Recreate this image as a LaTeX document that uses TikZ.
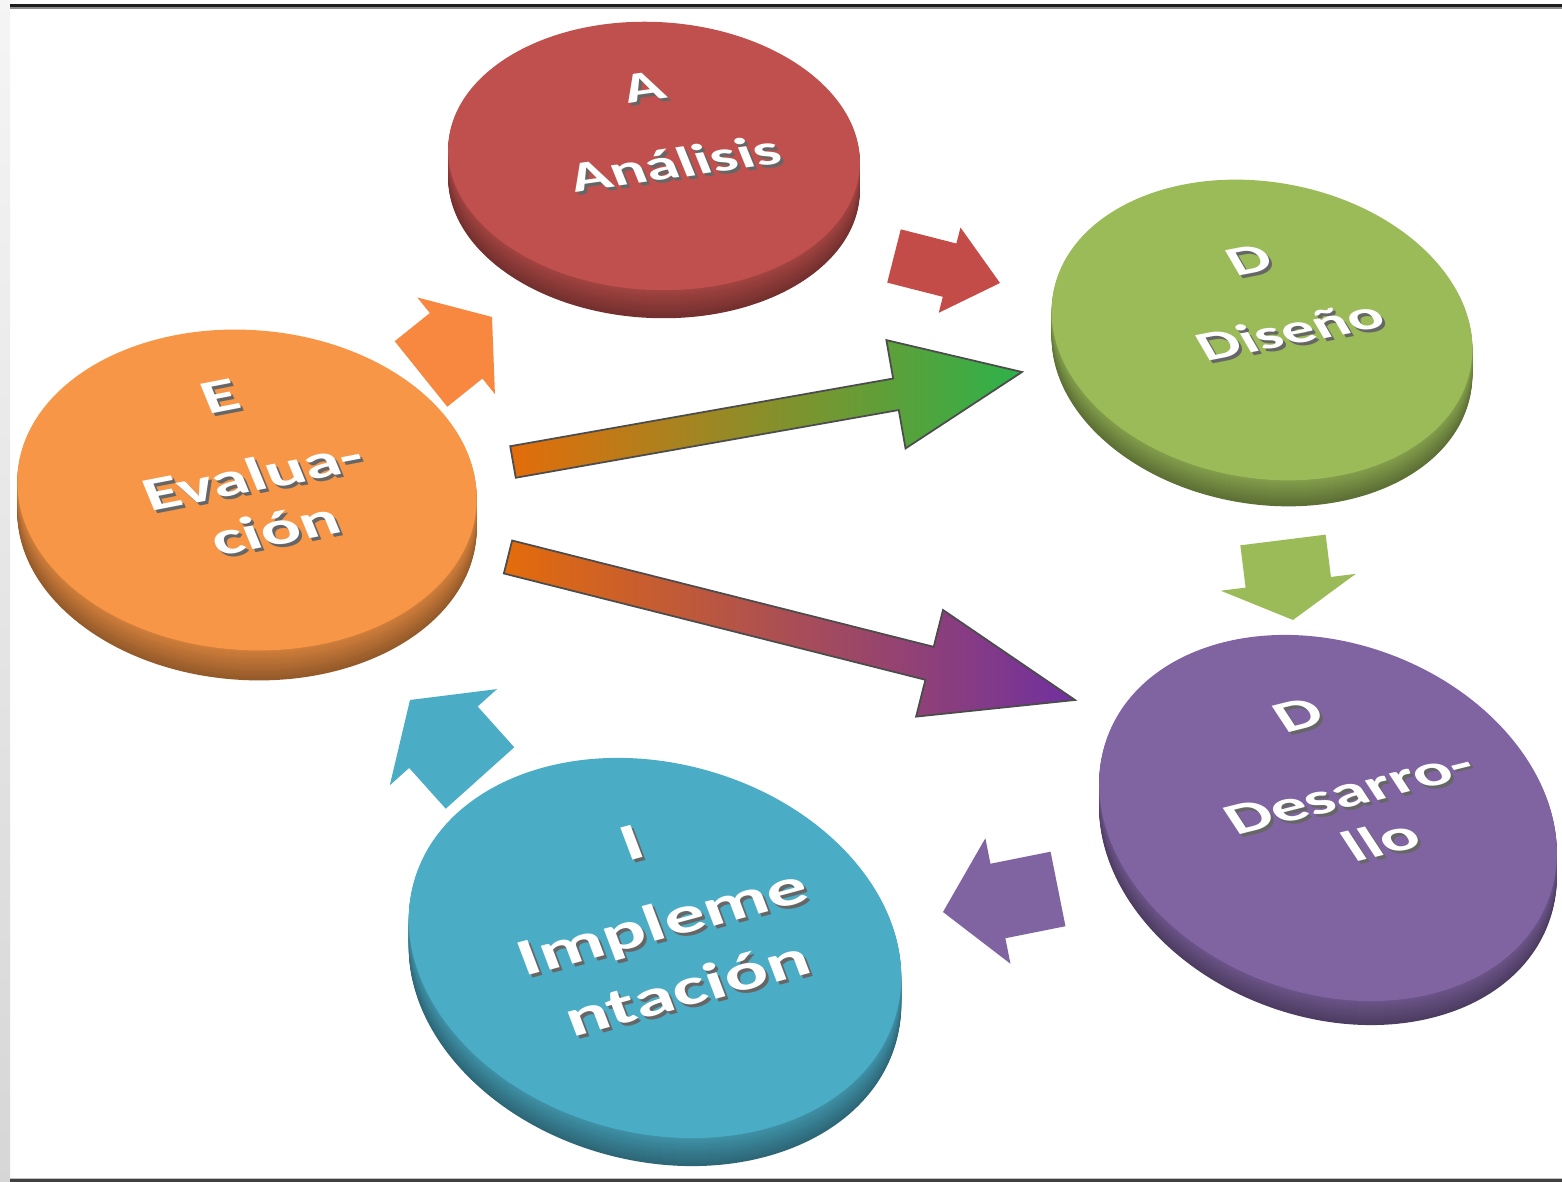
\documentclass[tikz,border=0pt]{standalone}
\usepackage{fontspec}
\setmainfont{Carlito}
\usetikzlibrary{calc,shapes.geometric}

\definecolor{anared}{HTML}{C0504D}
\definecolor{disgreen}{HTML}{9BBB59}
\definecolor{evaorange}{HTML}{F79646}
\definecolor{despurple}{HTML}{8064A2}
\definecolor{impblue}{HTML}{4BACC6}
\definecolor{grorange}{HTML}{E46C0A}
\definecolor{grgreen}{HTML}{2DB24A}
\definecolor{grpurple}{HTML}{7030A0}

% disc: name, centre, x radius, y radius, angle, colour, depth
\newcommand{\disc}[7]{%
  \foreach \d in {#7,...,1}{
    \pgfmathtruncatemacro\p{60+25*(#7-\d)/#7}
    \fill[#6!\p!black,shift={($(#2)+(0,-\d)$)},rotate=#5] (0,0) ellipse [x radius=#3,y radius=#4];
  }
  \node[face,fill=#6,rotate=#5,minimum width={2*#3*0.1mm},minimum height={2*#4*0.1mm}] (#1) at (#2) {};
}
% disclabel: name, position, angle, slant, font size, text
\newcommand{\disclabel}[6]{%
  \node[disc text,text=black!60,rotate=#3,xslant=#4,yscale=0.65,font=\fontsize#5\selectfont\bfseries] (#1-s) at ($(#2)+(3,-3)$) {#6};
  \node[disc text,text=white,rotate=#3,xslant=#4,yscale=0.65,font=\fontsize#5\selectfont\bfseries] (#1) at (#2) {#6};
}
% blockarrow: style, tail, tip, shaft half width, head half width, head length
\newcommand{\blockarrow}[6][]{%
  \coordinate (bh) at ($(#3)!#6!(#2)$);
  \path[#1] ($(#2)!#4!90:(#3)$) -- ($(bh)!#4!90:(#3)$) -- ($(bh)!#5!90:(#3)$) -- (#3)
    -- ($(bh)!#5!-90:(#3)$) -- ($(bh)!#4!-90:(#3)$) -- ($(#2)!#4!-90:(#3)$) -- cycle;
}

\begin{document}
\begin{tikzpicture}[x=0.1mm,y=0.1mm,
  face/.style={ellipse,inner sep=0pt,outer sep=0pt},
  disc text/.style={align=center,inner sep=0pt},
  gradient arrow/.style={draw=black!70,line width=0.5pt}]
  \useasboundingbox (0,0) rectangle (1562,1182);
  % frame
  \fill[white] (0,0) rectangle (1562,1182);
  \fill[top color=black!4,bottom color=black!16] (0,0) rectangle (10,1182);
  \fill[black!45] (10,1173) rectangle (1562,1175);
  \fill[black!88] (10,1175) rectangle (1562,1178);
  \fill[black!25] (10,3) rectangle (1562,4);
  \fill[black!75] (10,0) rectangle (1562,3);

  % discs
  \disc{ana}{654,1026}{206}{134}{-3}{anared}{28}
  \disc{dis}{1262,852}{212}{148}{-10}{disgreen}{26}
  \disc{eva}{247,692}{230}{160}{-4}{evaorange}{30}
  \disc{des}{1328,364}{235}{175}{-20}{despurple}{24}
  \disc{imp}{655,234}{250}{185}{-15}{impblue}{28}

  \disclabel{ana-t}{659,1056}{8}{-0.25}{{19}{23}}{A\\[12pt]Análisis}
  \disclabel{dis-t}{1270,886}{11}{-0.35}{{18.5}{22}}{D\\[12pt]Diseño}
  \disclabel{eva-t}{248,719}{11}{-0.2}{{21}{25}}{E\\[12pt]Evalua-\\ción}
  \disclabel{des-t}{1340,404}{14}{-0.35}{{20}{24}}{D\\[14pt]Desarro-\\llo}
  \disclabel{imp-t}{660,266}{15}{-0.1}{{23}{31}}{I\\[6pt]Impleme\\ntación}

  % small arrows round the cycle
  \coordinate (ea-tail) at (421,808);
  \coordinate (ea-tip) at (492,865);
  \blockarrow[fill=evaorange!90!red]{ea-tail}{ea-tip}{4.2mm}{6.2mm}{4.6mm}
  \coordinate (ad-tail) at (894,926);
  \coordinate (ad-tip) at (1000,899);
  \blockarrow[fill=anared!95!red]{ad-tail}{ad-tip}{2.75mm}{4.4mm}{5.2mm}
  \coordinate (dd-tail) at (1283,642);
  \coordinate (dd-tip) at (1293,562);
  \blockarrow[fill=disgreen]{dd-tail}{dd-tip}{4.3mm}{6.8mm}{3.8mm}
  \coordinate (di-tail) at (1058,293);
  \coordinate (di-tip) at (943,270);
  \blockarrow[fill=despurple]{di-tail}{di-tip}{3.8mm}{6.4mm}{5.6mm}
  \coordinate (ie-tail) at (480,404);
  \coordinate (ie-tip) at (410,482);
  \blockarrow[fill=impblue]{ie-tail}{ie-tip}{4.6mm}{7.2mm}{5mm}

  % long arrows out of the evaluation disc
  \coordinate (ed-tail) at (513,720);
  \coordinate (ed-tip) at (1022,810);
  \blockarrow[gradient arrow,left color=grorange,right color=grgreen]{ed-tail}{ed-tip}{1.6mm}{5.5mm}{12.8mm}
  \coordinate (eo-tail) at (508,625);
  \coordinate (eo-tip) at (1075,482);
  \blockarrow[gradient arrow,left color=grorange,right color=grpurple]{eo-tail}{eo-tip}{1.7mm}{5.5mm}{15mm}
\end{tikzpicture}
\end{document}
